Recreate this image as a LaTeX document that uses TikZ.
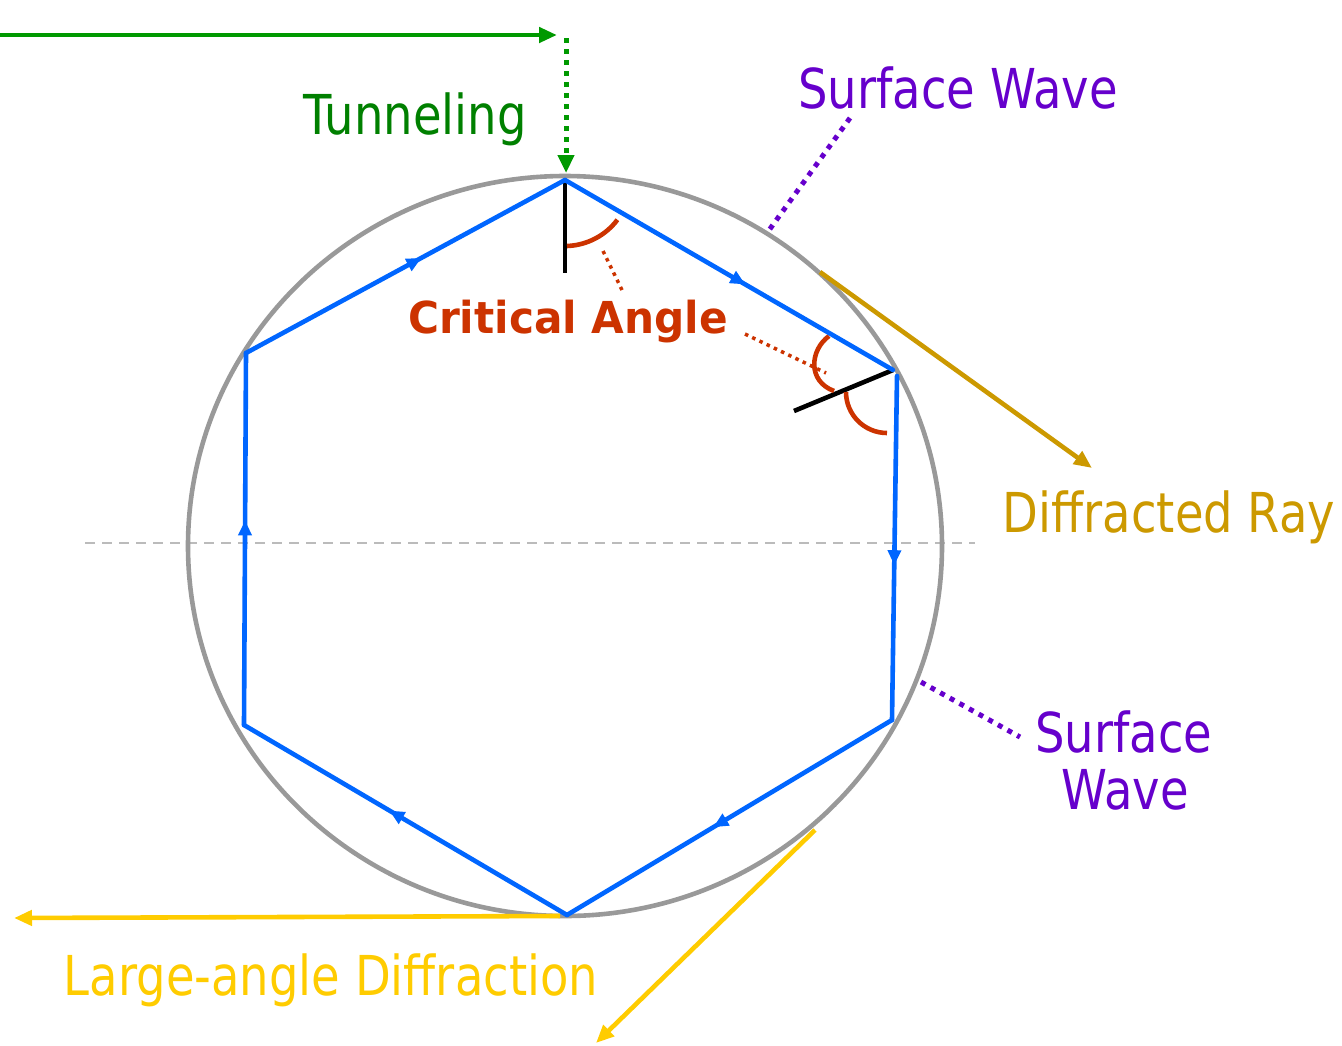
\documentclass[tikz,border=0pt]{standalone}
\usepackage{fontspec}
\setmainfont{DejaVu Sans}[FakeStretch=0.845]
\newfontfamily\critfont{DejaVu Sans}[FakeStretch=0.96]
\usetikzlibrary{arrows.meta,decorations.markings}
\definecolor{hexblue}{HTML}{0066FF}
\definecolor{ringgray}{HTML}{999999}
\definecolor{dashgray}{HTML}{BBBBBB}
\definecolor{tgreen}{HTML}{008000}
\definecolor{agreen}{HTML}{009900}
\definecolor{swpurple}{HTML}{6600CC}
\definecolor{critred}{HTML}{CC3300}
\definecolor{diffgold}{HTML}{CC9900}
\definecolor{lgyellow}{HTML}{FFCC00}
\begin{document}
\begin{tikzpicture}[x=1pt,y=-1pt,
  lbl/.style={anchor=base,inner sep=0pt,font=\fontsize{55}{60}\selectfont},
  hexseg/.style={draw=hexblue,line width=4.6pt,line cap=round,
    decoration={markings,mark=at position 0.55 with {\arrow{Triangle[length=15pt,width=13pt]}}},
    postaction={decorate}},
  bigtip/.style={-{Triangle[length=18pt,width=15pt]}},
  sqdots/.style={line width=5pt,dash pattern=on 5pt off 6pt}
]
\useasboundingbox (0,0) rectangle (1342,1045);

% coordinates
\coordinate (T) at (565,180);
\coordinate (UR) at (893,370);
\coordinate (URb) at (897,376);
\coordinate (LR) at (892,720);
\coordinate (B) at (567,915);
\coordinate (LL) at (244,725);
\coordinate (UL) at (246,353);

% dashed horizontal
\coordinate (dl) at (85,543);
\coordinate (dr) at (975,543);
\draw[dashgray,line width=2pt,dash pattern=on 10pt off 7pt] (dl) -- (dr);

% circle
\draw[ringgray,line width=4.6pt] (565,546) ellipse [x radius=377,y radius=370];

% normals
\coordinate (nT) at (565,273);
\coordinate (nR) at (794,411);
\draw[black,line width=4.6pt] (T) -- (nT);
\draw[black,line width=4.6pt] (UR) -- (nR);

% critical angle arcs
\draw[critred,line width=4.6pt] (567,246) arc[start angle=88,end angle=37,radius=66];
\draw[critred,line width=4.6pt] (829,336) .. controls (810,350) and (807,381) .. (834,391);
\draw[critred,line width=4.6pt] (846,392) arc[start angle=180,end angle=90,radius=41];

% hexagon
\draw[hexseg] (T) -- (UR);
\draw[hexseg] (URb) -- (LR);
\draw[hexseg] (LR) -- (B);
\draw[hexseg] (B) -- (LL);
\draw[hexseg] (LL) -- (UL);
\draw[hexseg] (UL) -- (T);

% labels
\node[lbl,text=tgreen] (tun) at (415,134) {Tunneling};
\node[lbl,text=swpurple] (sw1) at (958,108) {Surface Wave};
\node[lbl,text=swpurple] (sw2a) at (1124,752) {Surface};
\node[lbl,text=swpurple] (sw2b) at (1125,809) {Wave};
\node[lbl,text=diffgold] (dray) at (1169,532) {Diffracted Ray};
\node[lbl,text=lgyellow] (lad) at (331,995) {Large-angle Diffraction};
\node[anchor=base,inner sep=0pt,text=critred,font=\critfont\bfseries\fontsize{44}{50}\selectfont] (crit) at (568,333) {Critical Angle};

% green tunneling arrows
\coordinate (g0) at (0,35);
\coordinate (g1) at (557,35);
\coordinate (gd0) at (566,38);
\coordinate (gd1) at (566,173);
\draw[agreen,line width=4.6pt,bigtip] (g0) -- (g1);
\draw[agreen,sqdots,-{Triangle[length=18pt,width=16pt]}] (gd0) -- (gd1);

% red dotted pointers
\coordinate (r0) at (603,251);
\coordinate (r1) at (622,290);
\coordinate (r2) at (745,334);
\coordinate (r3) at (826,373);
\draw[critred,line width=3.5pt,dash pattern=on 3.5pt off 4.5pt] (r0) -- (r1);
\draw[critred,line width=3.5pt,dash pattern=on 3.5pt off 4.5pt] (r2) -- (r3);

% purple dotted pointers
\coordinate (p0) at (850,118);
\coordinate (p1) at (767,233);
\coordinate (p2) at (921,682);
\coordinate (p3) at (1020,737);
\draw[swpurple,sqdots] (p0) -- (p1);
\draw[swpurple,sqdots] (p2) -- (p3);

% diffracted ray
\coordinate (d0) at (820,272);
\coordinate (d1) at (1092,468);
\draw[diffgold,line width=4.6pt,bigtip] (d0) -- (d1);

% large angle diffraction
\coordinate (y0) at (560,916);
\coordinate (y1) at (14,918);
\coordinate (y2) at (815,830);
\coordinate (y3) at (596,1043);
\draw[lgyellow,line width=4.6pt,bigtip] (y0) -- (y1);
\draw[lgyellow,line width=4.6pt,bigtip] (y2) -- (y3);
\end{tikzpicture}
\end{document}
